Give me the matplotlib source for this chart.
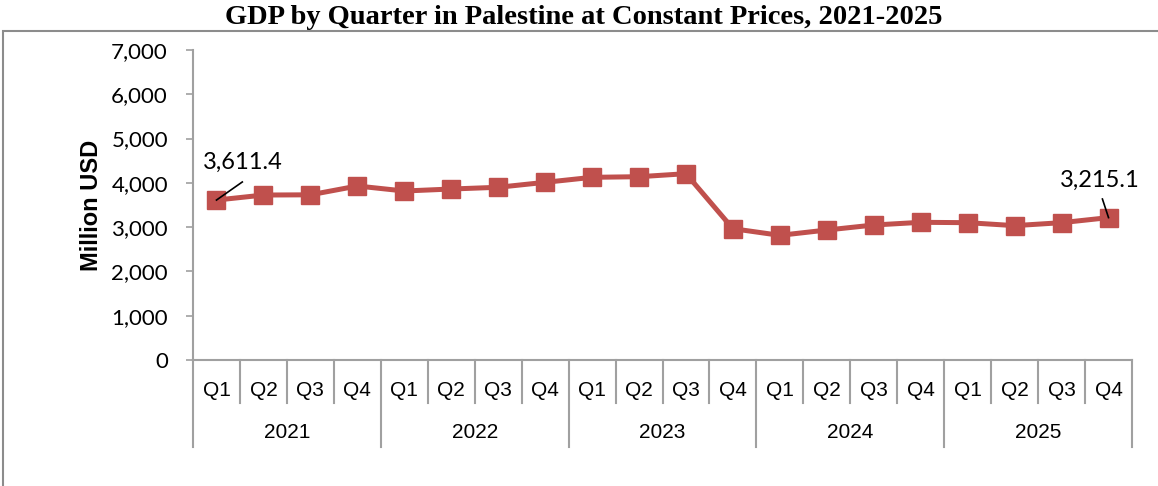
import matplotlib.pyplot as plt
from matplotlib.patches import Rectangle
from matplotlib.ticker import FuncFormatter

years = ["2021", "2022", "2023", "2024", "2025"]
quarters = ["Q1", "Q2", "Q3", "Q4"]
gdp = [3611.4, 3725, 3730, 3929,
       3816, 3861, 3900, 4012,
       4125, 4139, 4207, 2965,
       2815, 2935, 3048, 3109,
       3101, 3034, 3101, 3215.1]

red = "#C0504D"
gray = "#A0A0A0"

fig = plt.figure(figsize=(11.58, 4.86), dpi=100)
ax = fig.add_axes([193/1158, 1-360/486, (1132-193)/1158, 310/486])

x = list(range(len(gdp)))
ax.plot(x, gdp, color=red, lw=3.6, marker="s", ms=12.5, mec=red, mfc=red)

ax.set_xlim(-0.5, len(gdp) - 0.5)
ax.set_ylim(0, 7000)
ax.set_yticks(range(0, 7001, 1000))
ax.yaxis.set_major_formatter(FuncFormatter(lambda v, p: f"{v:,.0f}"))
ax.tick_params(axis="y", length=5, width=1.2, color=gray, pad=13, labelsize=16)
for lab in ax.get_yticklabels():
    lab.set_fontfamily("Lato")
ax.set_xticks([])

for s in ["top", "right"]:
    ax.spines[s].set_visible(False)
for s in ["left", "bottom"]:
    ax.spines[s].set_color(gray)
    ax.spines[s].set_linewidth(1.5)

ax.set_ylabel("Million USD", fontsize=17, fontweight="bold",
              fontfamily="Liberation Sans", labelpad=6)

# two-level category axis
trans = ax.get_xaxis_transform()
q_bot = -43/310
y_bot = -87/310
for i in range(len(gdp) + 1):
    bottom = y_bot if i % 4 == 0 else q_bot
    ax.plot([i - 0.5, i - 0.5], [0, bottom], color=gray, lw=1.5,
            transform=trans, clip_on=False)
for i in x:
    ax.text(i, -30/310, quarters[i % 4], transform=trans, ha="center",
            va="center", fontsize=15, fontfamily="Liberation Sans")
for j, yr in enumerate(years):
    ax.text(j*4 + 1.5, -73/310, yr, transform=trans, ha="center",
            va="center", fontsize=15, fontfamily="Liberation Sans")

# data labels with leader lines
ax.plot([x[0], x[0] + 0.55], [gdp[0], 4020], color="black", lw=1.2)
ax.text(x[0] - 0.29, 4470, "3,611.4", fontsize=17, fontfamily="Lato",
        ha="left", va="center")
ax.plot([x[-1] - 0.13, x[-1]], [3635, gdp[-1]], color="black", lw=1.2)
ax.text(x[-1] - 0.18, 4064, "3,215.1", fontsize=17, fontfamily="Lato",
        ha="center", va="center")

fig.text(0.504, 1-17/486, "GDP by Quarter in Palestine at Constant Prices, 2021-2025",
         ha="center", va="center", fontsize=20.5, fontweight="bold",
         fontfamily="Liberation Serif")

fig.patches.append(Rectangle((3/1158, -0.2), 1.2, 1.2 - 31/486, fill=False,
                             edgecolor="#8C8C8C", lw=1.5,
                             transform=fig.transFigure, figure=fig))

fig.savefig("out.png", dpi=100)
